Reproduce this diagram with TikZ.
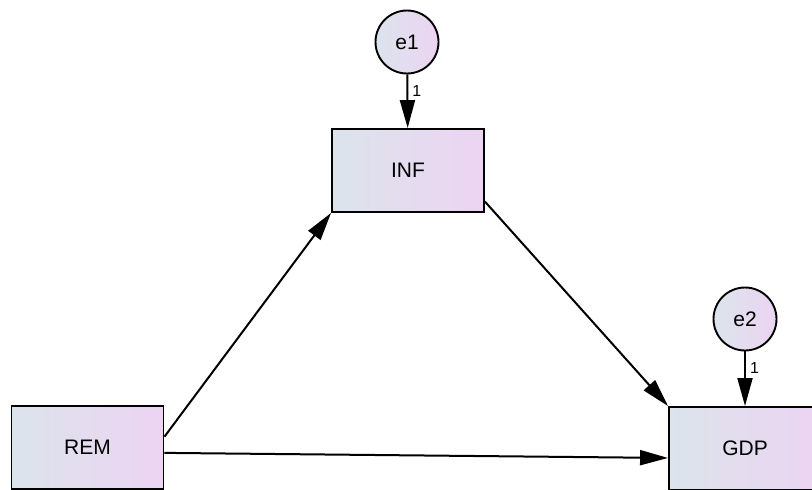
\documentclass[tikz,border=0pt]{standalone}
\usepackage{fontspec}
\setmainfont{Liberation Sans}
\usetikzlibrary{arrows.meta}
\definecolor{gblue}{HTML}{DCE4EC}
\definecolor{gpink}{HTML}{ECD4F2}
\tikzset{
  obs/.style={draw=black, line width=1.9pt, rectangle, minimum width=152pt, minimum height=83pt, inner sep=0pt,
    left color=gblue, right color=gpink, font=\fontsize{21}{25}\selectfont},
  err/.style={draw=black, line width=1.9pt, circle, minimum size=63pt, inner sep=0pt,
    left color=gblue, right color=gpink, font=\fontsize{21}{25}\selectfont},
  path/.style={line width=2pt, -{Triangle[length=28pt,width=15pt]}},
  wlab/.style={font=\fontsize{16}{18}\selectfont, inner sep=0pt}
}
\begin{document}
\begin{tikzpicture}[x=1pt,y=-1pt]
\useasboundingbox (0,0) rectangle (812,490);
\clip (0,0) rectangle (812,490);
\node[obs] (INF) at (408,170.5) {INF};
\node[obs] (REM) at (87.5,447.5) {REM};
\node[obs] (GDP) at (745,448.5) {GDP};
\node[err] (e1) at (407,42) {e1};
\node[err] (e2) at (745,319) {e2};
\draw[path] (e1) -- (INF) node[wlab, pos=0.3, right=4pt] (l1) {1};
\draw[path] (e2) -- (GDP) node[wlab, pos=0.3, right=4pt] (l2) {1};
\draw[path] (REM.8) -- (INF.south west);
\draw[path] (INF.-22) -- (GDP.north west);
\draw[path] (REM.-4) -- (GDP.187);
\end{tikzpicture}
\end{document}
